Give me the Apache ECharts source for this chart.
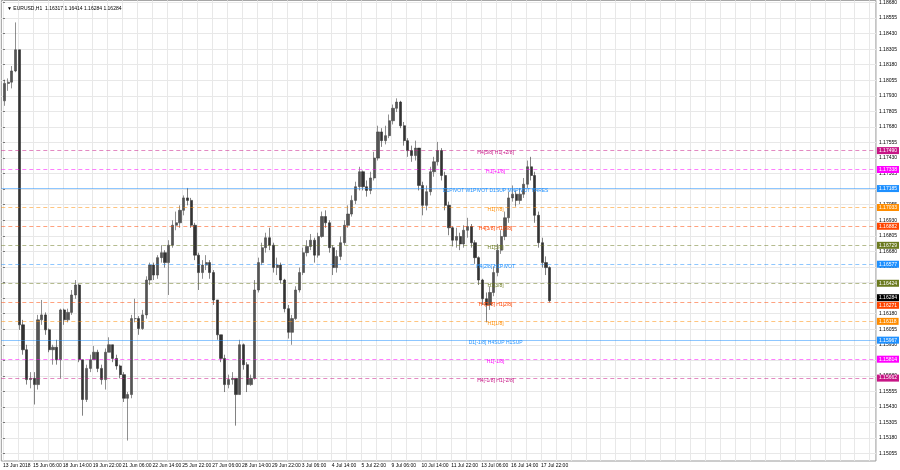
<!DOCTYPE html>
<html><head><meta charset="utf-8">
<script src="https://cdn.jsdelivr.net/npm/echarts@6/dist/echarts.min.js"></script>
<style>html,body{margin:0;padding:0;background:#fff}#c{width:900px;height:470px}</style>
</head><body><div id="c"></div>
<script>
const headerText = '\u25BC EURUSD,H1  1.16317 1.16414 1.16284 1.16284';
const firstOpen = 1.1789;
const closes = [1.1803,1.1804,1.1813,1.1830,1.1609,1.1589,1.1565,1.1566,1.1561,1.1613,
1.1617,1.1605,1.1589,1.1591,1.1581,1.1621,1.1613,1.1619,1.1633,1.1641,
1.1581,1.1549,1.1574,1.1581,1.1587,1.1574,1.1565,1.1587,1.1593,1.1582,
1.1576,1.1569,1.1550,1.1553,1.1614,1.1614,1.1606,1.1617,1.1645,1.1657,
1.1649,1.1663,1.1667,1.1659,1.1673,1.1689,1.1691,1.1701,1.1711,1.1709,
1.1689,1.1665,1.1651,1.1657,1.1659,1.1651,1.1629,1.1601,1.1582,1.1561,
1.1565,1.1566,1.1553,1.1593,1.1577,1.1561,1.1566,1.1637,1.1659,1.1671,
1.1679,1.1673,1.1655,1.1657,1.1645,1.1622,1.1603,1.1614,1.1637,1.1651,
1.1667,1.1672,1.1677,1.1665,1.1680,1.1696,1.1691,1.1671,1.1655,1.1664,
1.1675,1.1689,1.1698,1.1709,1.1720,1.1732,1.1720,1.1717,1.1727,1.1743,
1.1764,1.1757,1.1761,1.1773,1.1783,1.1788,1.1769,1.1757,1.1749,1.1745,
1.1751,1.1721,1.1705,1.1716,1.1732,1.1740,1.1749,1.1729,1.1705,1.1687,
1.1677,1.1680,1.1674,1.1685,1.1688,1.1675,1.1663,1.1645,1.1630,1.1625,
1.1635,1.1651,1.1669,1.1680,1.1695,1.1711,1.1714,1.1709,1.1714,1.1722,
1.1736,1.1729,1.1697,1.1675,1.1659,1.1655,1.16284];
const highs = [1.1806,1.1807,1.1817,1.1852,1.1830,1.1613,1.1593,1.1571,1.1571,1.1617,
1.1629,1.1619,1.1606,1.1593,1.1597,1.1622,1.1622,1.1622,1.1637,1.1645,
1.1642,1.1581,1.1577,1.1585,1.1592,1.1589,1.1577,1.1590,1.1599,1.1593,
1.1585,1.1577,1.1571,1.1555,1.1617,1.1630,1.1616,1.1621,1.1648,1.1659,
1.1659,1.1665,1.1673,1.1669,1.1677,1.1693,1.1700,1.1705,1.1713,1.1719,
1.1711,1.1691,1.1667,1.1661,1.1665,1.1661,1.1653,1.1629,1.1601,1.1585,
1.1569,1.1571,1.1566,1.1597,1.1594,1.1579,1.1569,1.1645,1.1663,1.1675,
1.1683,1.1687,1.1675,1.1663,1.1659,1.1646,1.1625,1.1617,1.1640,1.1655,
1.1671,1.1677,1.1682,1.1679,1.1683,1.1700,1.1701,1.1693,1.1673,1.1669,
1.1680,1.1693,1.1705,1.1713,1.1724,1.1736,1.1733,1.1725,1.1732,1.1748,
1.1769,1.1767,1.1769,1.1778,1.1786,1.1791,1.1789,1.1772,1.1759,1.1753,
1.1757,1.1751,1.1724,1.1721,1.1736,1.1744,1.1756,1.1751,1.1732,1.1708,
1.1688,1.1687,1.1683,1.1689,1.1695,1.1690,1.1677,1.1664,1.1646,1.1635,
1.1640,1.1656,1.1674,1.1685,1.1700,1.1716,1.1721,1.1717,1.1719,1.1727,
1.1741,1.1744,1.1732,1.1700,1.1679,1.1664,1.1656];
const lows = [1.1785,1.1797,1.1799,1.1812,1.1605,1.1585,1.1561,1.1558,1.1545,1.1557,
1.1609,1.1601,1.1587,1.1577,1.1577,1.1566,1.1609,1.1611,1.1617,1.1630,
1.1579,1.1536,1.1547,1.1571,1.1581,1.1571,1.1561,1.1557,1.1587,1.1579,
1.1573,1.1566,1.1547,1.1516,1.1550,1.1611,1.1601,1.1605,1.1614,1.1641,
1.1645,1.1646,1.1659,1.1655,1.1633,1.1671,1.1685,1.1687,1.1697,1.1705,
1.1687,1.1661,1.1637,1.1646,1.1653,1.1646,1.1625,1.1597,1.1579,1.1555,
1.1558,1.1561,1.1528,1.1553,1.1573,1.1555,1.1560,1.1565,1.1635,1.1657,
1.1667,1.1669,1.1651,1.1649,1.1642,1.1619,1.1598,1.1593,1.1613,1.1635,
1.1649,1.1664,1.1669,1.1659,1.1663,1.1679,1.1687,1.1667,1.1649,1.1651,
1.1661,1.1673,1.1687,1.1696,1.1706,1.1717,1.1717,1.1712,1.1714,1.1725,
1.1741,1.1752,1.1754,1.1759,1.1770,1.1780,1.1767,1.1753,1.1744,1.1740,
1.1741,1.1717,1.1697,1.1701,1.1713,1.1728,1.1737,1.1725,1.1701,1.1681,
1.1672,1.1671,1.1669,1.1671,1.1679,1.1671,1.1658,1.1641,1.1625,1.1611,
1.1621,1.1632,1.1648,1.1666,1.1677,1.1691,1.1708,1.1704,1.1706,1.1711,
1.1719,1.1725,1.1691,1.1671,1.1655,1.1649,1.1627];
const hoursPerCandle = 4;

const xTickLabels = ['13 Jun 2018','15 Jun 06:00','18 Jun 14:00','19 Jun 22:00','21 Jun 06:00','22 Jun 14:00',
'25 Jun 22:00','27 Jun 06:00','28 Jun 14:00','29 Jun 22:00','3 Jul 06:00','4 Jul 14:00','5 Jul 22:00',
'9 Jul 06:00','10 Jul 14:00','11 Jul 22:00','13 Jul 06:00','16 Jul 14:00','17 Jul 22:00'];
const xTickBars = [0,32,64,96,128,160,192,224,256,288,320,352,384,416,448,480,512,544,576];
const yTickLabels = [1.15055,1.15180,1.15305,1.15430,1.15555,1.15680,1.15805,1.15930,1.16055,1.16180,
1.16305,1.16430,1.16555,1.16680,1.16805,1.16930,1.17055,1.17180,1.17305,1.17430,1.17555,1.17680,
1.17805,1.17930,1.18055,1.18180,1.18305,1.18430,1.18555,1.18680];

const levelValues = [1.17490,1.17338,1.17185,1.17033,1.16882,1.16729,1.16577,1.16424,1.16271,1.16118,1.15967,1.15814,1.15662];
const levelNames = ['H4[5/8] H1[+2/8]','H1[+1/8]','D1PIVOT W1PIVOT D1SUP MNPIVOT H4RES','H1[7/8]','H4[3/8] H1[6/8]',
'H1[5/8]','H4[2/8] H1PIVOT','H1[3/8]','H4[1/8] H1[2/8]','H1[1/8]','D1[-1/8] H4SUP H1SUP','H1[-1/8]','H4[-1/8] H1[-2/8]'];
const levelColors = ['#c71585','#ff00ff','#1e90ff','#ff8c00','#ff4500','#6b7a1f','#1e90ff','#6b7a1f','#ff4500','#ff8c00','#1e90ff','#ff00ff','#c71585'];
const levelSolid = [false,false,true,false,false,false,false,false,false,false,true,false,false];
const lastPrice = 1.16284;

const FONT = 'Liberation Sans';
function fade(hex, a) {
  const n = parseInt(hex.slice(1), 16);
  return 'rgba(' + (n >> 16) + ',' + ((n >> 8) & 255) + ',' + (n & 255) + ',' + a + ')';
}
const candles = closes.map((c, i) => {
  const o = i === 0 ? firstOpen : closes[i - 1];
  const h = Math.max(highs[i], o, c), l = Math.min(lows[i], o, c);
  return [i * hoursPerCandle + (hoursPerCandle - 1) / 2, o, c, l, h];
});
const gridTicks = [];
for (let b = 0; b <= 934; b += 16) gridTicks.push(b);

const lineMarks = levelValues.map((v, i) => ({
  yAxis: v,
  lineStyle: { color: fade(levelColors[i], 0.5), type: levelSolid[i] ? 'solid' : [4, 3], width: 1 },
  label: { show: true, position: 'insideMiddleBottom', distance: 0, offset: [57, 0], formatter: levelNames[i],
    color: levelColors[i], fontSize: 5, fontFamily: FONT }
}));
const boxMarks = levelValues.map((v, i) => ({
  yAxis: v,
  lineStyle: { color: 'rgba(0,0,0,0)', width: 0 },
  label: { show: true, position: 'end', distance: 1, formatter: v.toFixed(5), color: '#fff',
    backgroundColor: levelColors[i], padding: [1, 2, 1, 2], fontSize: 5, fontFamily: FONT,
    offset: [0, v === 1.16271 ? 3 : 0] }
}));
boxMarks.push({
  yAxis: lastPrice,
  lineStyle: { color: 'rgba(0,0,0,0)', width: 0 },
  label: { show: true, position: 'end', distance: 1, formatter: lastPrice.toFixed(5), color: '#fff',
    backgroundColor: '#000', padding: [1, 2, 1, 2], fontSize: 5, fontFamily: FONT, offset: [0, -3] }
});

const chart = echarts.init(document.getElementById('c'), null, { renderer: 'canvas' });
chart.setOption({
  animation: false,
  backgroundColor: '#fff',
  title: { text: headerText, left: 2, top: 1, textStyle: { fontSize: 5, fontWeight: 'normal', color: '#000', fontFamily: FONT } },
  grid: { left: 0, right: 22, top: 0, bottom: 9, show: true, borderColor: '#9a9a9a', borderWidth: 1 },
  xAxis: {
    type: 'value', min: -1.8, max: 934.7,
    axisLine: { show: false },
    axisTick: { show: false, customValues: gridTicks },
    splitLine: { show: true, lineStyle: { color: '#e8e8e8', width: 1 } },
    axisLabel: { customValues: xTickBars, align: 'left', margin: 2, fontSize: 5, color: '#000', fontFamily: FONT,
      formatter: v => xTickLabels[xTickBars.indexOf(Math.round(v))] || '' }
  },
  yAxis: {
    type: 'value', position: 'right', min: 1.14996, max: 1.18697,
    axisLine: { show: false },
    axisTick: { show: true, length: 2, lineStyle: { color: '#777' }, customValues: yTickLabels },
    splitLine: { show: true, lineStyle: { color: '#e8e8e8', width: 1 } },
    axisLabel: { customValues: yTickLabels, margin: 3, fontSize: 5, color: '#000', fontFamily: FONT,
      formatter: v => v.toFixed(5) }
  },
  series: [{
    type: 'line', data: [], silent: true, z: 1, clip: false,
    markLine: { silent: true, precision: 5, symbol: ['none', 'none'], animation: false, data: lineMarks }
  }, {
    type: 'candlestick',
    data: candles, z: 3,
    encode: { x: 0, y: [1, 2, 3, 4] },
    barWidth: 2.7,
    itemStyle: { color: '#555', color0: '#333', borderColor: '#444', borderColor0: '#2e2e2e', borderWidth: 0.6 }
  }, {
    type: 'line', data: [], silent: true, z: 5, clip: false,
    markLine: { silent: true, precision: 5, symbol: ['none', 'none'], animation: false, data: boxMarks }
  }]
});
</script>
</body></html>
